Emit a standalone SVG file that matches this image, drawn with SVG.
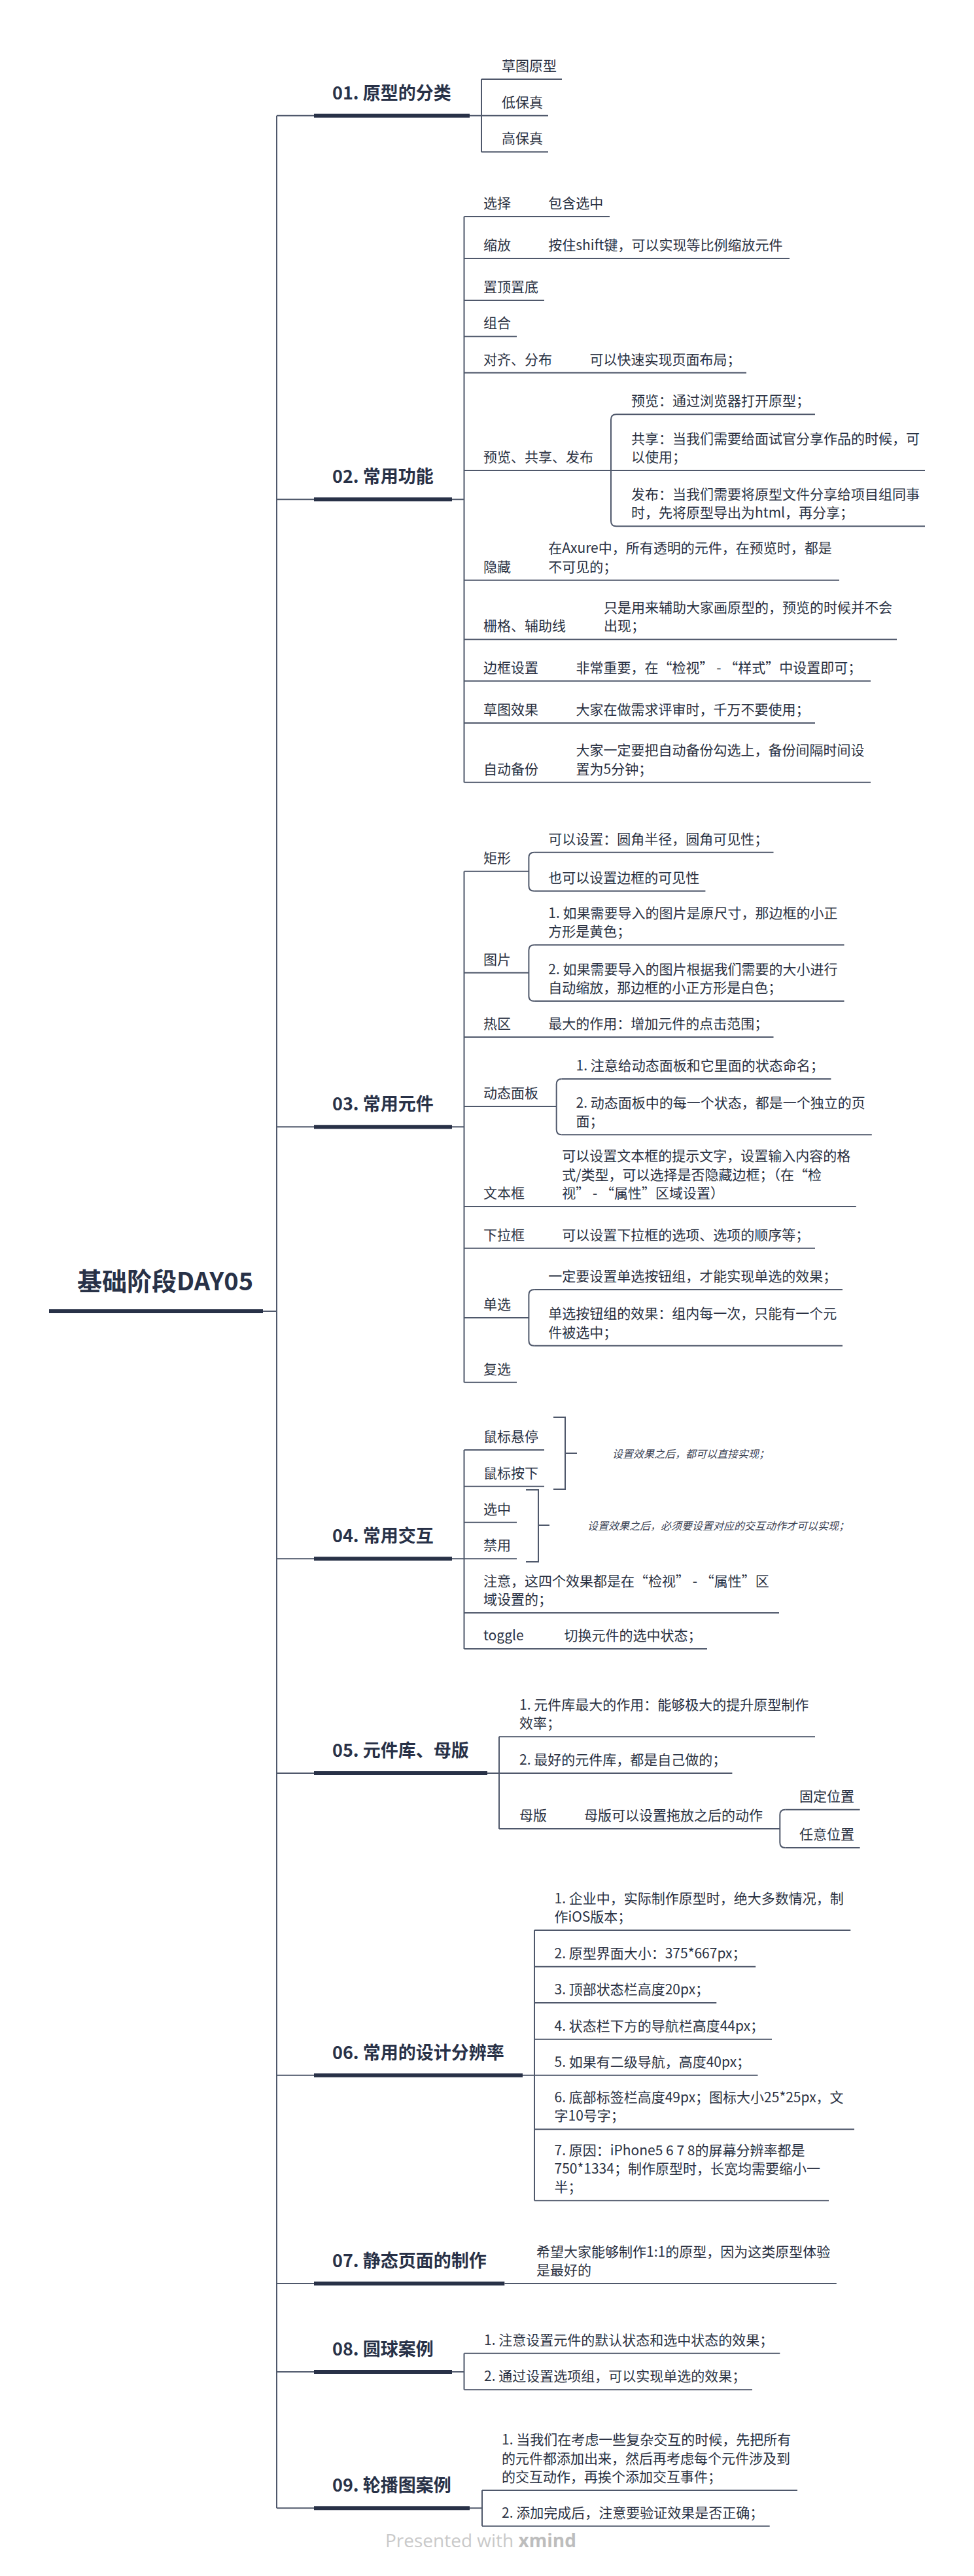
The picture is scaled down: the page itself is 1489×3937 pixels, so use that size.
<svg xmlns="http://www.w3.org/2000/svg" width="1489" height="3937" viewBox="0 0 1489 3937">
<style>
text{font-family:"Noto Sans CJK SC","Noto Sans",sans-serif;fill:#2a3142;font-size:21px}
.h{font-size:27px;font-weight:bold;fill:#283147}
.root{font-size:38px;font-weight:bold;fill:#283147}
.s{font-size:16px;font-style:italic;fill:#3d4455}
.ln{stroke:#4f586b;stroke-width:2;fill:none}
.bar{stroke:#283147;stroke-width:6;fill:none}
.wm{font-family:"Open Sans","Noto Sans",sans-serif;font-size:28px;fill:#c9c9c9}
</style>
<rect width="1489" height="3937" fill="#ffffff"/>
<g id="connectors">
<path class="ln" d="M423,176.7 V3833.3"/>
<path class="ln" d="M402,2004 H423"/>
<path class="ln" d="M423,176.7 H480 M423,763.3 H480 M423,1722.3 H480 M423,2382.3 H480 M423,2710 H480 M423,3171.7 H480 M423,3490 H480 M423,3625 H480 M423,3833.3 H480"/>
<path class="ln" d="M718,176.7 H736 M736,121 V232.3"/>
<path class="ln" d="M691,763.3 H709.5 M709.5,331 V1195.7"/>
<path class="ln" d="M942,633.3 Q934,633.3 934,641.3 V796.3 Q934,804.3 942,804.3"/>
<path class="ln" d="M691,1722.3 H709.5 M709.5,1331.7 V2112.7"/>
<path class="ln" d="M816.4,1302.7 Q808.4,1302.7 808.4,1310.7 V1353.7 Q808.4,1361.7 816.4,1361.7"/>
<path class="ln" d="M816.4,1444.3 Q808.4,1444.3 808.4,1452.3 V1522 Q808.4,1530 816.4,1530"/>
<path class="ln" d="M858.7,1649 Q850.7,1649 850.7,1657 V1726.3 Q850.7,1734.3 858.7,1734.3"/>
<path class="ln" d="M816.4,1971 Q808.4,1971 808.4,1979 V2048.7 Q808.4,2056.7 816.4,2056.7"/>
<path class="ln" d="M691,2382.3 H709.5 M709.5,2216 V2520"/>
<path class="ln" d="M846,2166 H864 V2276 H846 M864,2221 H882"/>
<path class="ln" d="M804,2277 H823 V2387 H804 M823,2331 H840"/>
<path class="ln" d="M745,2710 H763 M763,2654.3 V2795"/>
<path class="ln" d="M1200.3,2765.7 Q1192.3,2765.7 1192.3,2773.7 V2816 Q1192.3,2824 1200.3,2824"/>
<path class="ln" d="M799,3171.7 H817 M817,2950 V3363.3"/>
<path class="ln" d="M691,3625 H709.5 M709.5,3596.7 V3652.3"/>
<path class="ln" d="M718,3833.3 H737 M737,3806 V3860.7"/>
</g>
<g id="root">
<text class="root" x="118" y="1972">基础阶段DAY05</text>
<path class="bar" d="M75,2004 H402"/>
</g>
<g id="b01">
<text class="h" x="508" y="151.7">01. 原型的分类</text>
<path class="bar" d="M480,176.7 H718"/>
</g>
<g id="n01-1"><text x="767" y="108">草图原型</text><path class="ln" d="M736,121 H859"/></g>
<g id="n01-2"><text x="767" y="163.7">低保真</text><path class="ln" d="M736,176.7 H838"/></g>
<g id="n01-3"><text x="767" y="219.3">高保真</text><path class="ln" d="M736,232.3 H838"/></g>
<g id="b02">
<text class="h" x="508" y="738.3">02. 常用功能</text>
<path class="bar" d="M480,763.3 H691"/>
</g>
<g id="n02-1"><text x="739" y="318">选择</text><text x="838.3" y="318">包含选中</text><path class="ln" d="M709.5,331 H932"/></g>
<g id="n02-2"><text x="739" y="382">缩放</text><text x="838.3" y="382">按住shift键，可以实现等比例缩放元件</text><path class="ln" d="M709.5,395 H1207"/></g>
<g id="n02-3"><text x="739" y="446">置顶置底</text><path class="ln" d="M709.5,459 H832"/></g>
<g id="n02-4"><text x="739" y="501.3">组合</text><path class="ln" d="M709.5,514.3 H790"/></g>
<g id="n02-5"><text x="739" y="556.7">对齐、分布</text><text x="901.5" y="556.7">可以快速实现页面布局；</text><path class="ln" d="M709.5,569.7 H1141"/></g>
<g id="n02-6"><text x="739" y="706">预览、共享、发布</text><path class="ln" d="M709.5,719 H934"/></g>
<g id="n02-6a"><text x="965" y="620.3">预览：通过浏览器打开原型；</text><path class="ln" d="M942,633.3 H1246"/></g>
<g id="n02-6b"><text x="965" y="677.7">共享：当我们需要给面试官分享作品的时候，可</text><text x="965" y="706">以使用；</text><path class="ln" d="M934,719 H1414"/></g>
<g id="n02-6c"><text x="965" y="763">发布：当我们需要将原型文件分享给项目组同事</text><text x="965" y="791.3">时，先将原型导出为html，再分享；</text><path class="ln" d="M942,804.3 H1414"/></g>
<g id="n02-7"><text x="739" y="873.7">隐藏</text><text x="838.3" y="845.4">在Axure中，所有透明的元件，在预览时，都是</text><text x="838.3" y="873.7">不可见的；</text><path class="ln" d="M709.5,886.7 H1283"/></g>
<g id="n02-8"><text x="739" y="964.3">栅格、辅助线</text><text x="923" y="936">只是用来辅助大家画原型的，预览的时候并不会</text><text x="923" y="964.3">出现；</text><path class="ln" d="M709.5,977.3 H1371"/></g>
<g id="n02-9"><text x="739" y="1027.7">边框设置</text><text x="880.6" y="1027.7">非常重要，在“检视” - “样式”中设置即可；</text><path class="ln" d="M709.5,1040.7 H1331"/></g>
<g id="n02-10"><text x="739" y="1092">草图效果</text><text x="880.6" y="1092">大家在做需求评审时，千万不要使用；</text><path class="ln" d="M709.5,1105 H1246"/></g>
<g id="n02-11"><text x="739" y="1182.7">自动备份</text><text x="880.6" y="1154.4">大家一定要把自动备份勾选上，备份间隔时间设</text><text x="880.6" y="1182.7">置为5分钟；</text><path class="ln" d="M709.5,1195.7 H1331"/></g>
<g id="b03">
<text class="h" x="508" y="1697.3">03. 常用元件</text>
<path class="bar" d="M480,1722.3 H691"/>
</g>
<g id="n03-1"><text x="739" y="1318.7">矩形</text><path class="ln" d="M709.5,1331.7 H808.4"/></g>
<g id="n03-1a"><text x="838.3" y="1289.7">可以设置：圆角半径，圆角可见性；</text><path class="ln" d="M816.4,1302.7 H1182.5"/></g>
<g id="n03-1b"><text x="838.3" y="1348.7">也可以设置边框的可见性</text><path class="ln" d="M816.4,1361.7 H1078.4"/></g>
<g id="n03-2"><text x="739" y="1473.7">图片</text><path class="ln" d="M709.5,1486.7 H808.4"/></g>
<g id="n03-2a"><text x="838.3" y="1403">1. 如果需要导入的图片是原尺寸，那边框的小正</text><text x="838.3" y="1431.3">方形是黄色；</text><path class="ln" d="M816.4,1444.3 H1290.5"/></g>
<g id="n03-2b"><text x="838.3" y="1488.7">2. 如果需要导入的图片根据我们需要的大小进行</text><text x="838.3" y="1517">自动缩放，那边框的小正方形是白色；</text><path class="ln" d="M816.4,1530 H1290.5"/></g>
<g id="n03-3"><text x="739" y="1572">热区</text><text x="838.3" y="1572">最大的作用：增加元件的点击范围；</text><path class="ln" d="M709.5,1585 H1182.5"/></g>
<g id="n03-4"><text x="739" y="1678">动态面板</text><path class="ln" d="M709.5,1691 H850.7"/></g>
<g id="n03-4a"><text x="880.6" y="1636">1. 注意给动态面板和它里面的状态命名；</text><path class="ln" d="M858.7,1649 H1270.4"/></g>
<g id="n03-4b"><text x="880.6" y="1693">2. 动态面板中的每一个状态，都是一个独立的页</text><text x="880.6" y="1721.3">面；</text><path class="ln" d="M858.7,1734.3 H1332.8"/></g>
<g id="n03-5"><text x="739" y="1831">文本框</text><text x="859.2" y="1774.4">可以设置文本框的提示文字，设置输入内容的格</text><text x="859.2" y="1802.7">式/类型，可以选择是否隐藏边框；（在“检</text><text x="859.2" y="1831">视” - “属性”区域设置）</text><path class="ln" d="M709.5,1844 H1308.8"/></g>
<g id="n03-6"><text x="739" y="1894.7">下拉框</text><text x="859.2" y="1894.7">可以设置下拉框的选项、选项的顺序等；</text><path class="ln" d="M709.5,1907.7 H1246"/></g>
<g id="n03-7"><text x="739" y="2001">单选</text><path class="ln" d="M709.5,2014 H808.4"/></g>
<g id="n03-7a"><text x="838.3" y="1958">一定要设置单选按钮组，才能实现单选的效果；</text><path class="ln" d="M816.4,1971 H1288"/></g>
<g id="n03-7b"><text x="838.3" y="2015.4">单选按钮组的效果：组内每一次，只能有一个元</text><text x="838.3" y="2043.7">件被选中；</text><path class="ln" d="M816.4,2056.7 H1288"/></g>
<g id="n03-8"><text x="739" y="2099.7">复选</text><path class="ln" d="M709.5,2112.7 H790"/></g>
<g id="b04">
<text class="h" x="508" y="2357.3">04. 常用交互</text>
<path class="bar" d="M480,2382.3 H691"/>
</g>
<g id="n04-1"><text x="739" y="2203">鼠标悬停</text><path class="ln" d="M709.5,2216 H832"/></g>
<g id="n04-2"><text x="739" y="2258.7">鼠标按下</text><path class="ln" d="M709.5,2271.7 H832"/></g>
<g id="n04-3"><text x="739" y="2313.7">选中</text><path class="ln" d="M709.5,2326.7 H790"/></g>
<g id="n04-4"><text x="739" y="2369.3">禁用</text><path class="ln" d="M709.5,2382.3 H790"/></g>
<g id="n04-5"><text x="739" y="2423.7">注意，这四个效果都是在“检视” - “属性”区</text><text x="739" y="2452">域设置的；</text><path class="ln" d="M709.5,2465 H1191"/></g>
<g id="n04-6"><text x="739" y="2507">toggle</text><text x="862.4" y="2507">切换元件的选中状态；</text><path class="ln" d="M709.5,2520 H1081"/></g>
<g id="sum04-1"><text class="s" x="936" y="2228">设置效果之后，都可以直接实现；</text></g>
<g id="sum04-2"><text class="s" x="898" y="2338">设置效果之后，必须要设置对应的交互动作才可以实现；</text></g>
<g id="b05">
<text class="h" x="508" y="2685">05. 元件库、母版</text>
<path class="bar" d="M480,2710 H745"/>
</g>
<g id="n05-1"><text x="794" y="2613">1. 元件库最大的作用：能够极大的提升原型制作</text><text x="794" y="2641.3">效率；</text><path class="ln" d="M763,2654.3 H1246"/></g>
<g id="n05-2"><text x="794" y="2697">2. 最好的元件库，都是自己做的；</text><path class="ln" d="M763,2710 H1119.4"/></g>
<g id="n05-3"><text x="794" y="2782">母版</text><text x="893" y="2782">母版可以设置拖放之后的动作</text><path class="ln" d="M763,2795 H1192.3"/></g>
<g id="n05-3a"><text x="1222" y="2752.7">固定位置</text><path class="ln" d="M1200.3,2765.7 H1314.6"/></g>
<g id="n05-3b"><text x="1222" y="2811">任意位置</text><path class="ln" d="M1200.3,2824 H1314.6"/></g>
<g id="b06">
<text class="h" x="508" y="3146.7">06. 常用的设计分辨率</text>
<path class="bar" d="M480,3171.7 H799"/>
</g>
<g id="n06-1"><text x="847.5" y="2908.7">1. 企业中，实际制作原型时，绝大多数情况，制</text><text x="847.5" y="2937">作iOS版本；</text><path class="ln" d="M817,2950 H1300.3"/></g>
<g id="n06-2"><text x="847.5" y="2992.7">2. 原型界面大小：375*667px；</text><path class="ln" d="M817,3005.7 H1155.2"/></g>
<g id="n06-3"><text x="847.5" y="3048">3. 顶部状态栏高度20px；</text><path class="ln" d="M817,3061 H1095.3"/></g>
<g id="n06-4"><text x="847.5" y="3103.7">4. 状态栏下方的导航栏高度44px；</text><path class="ln" d="M817,3116.7 H1180"/></g>
<g id="n06-5"><text x="847.5" y="3158.7">5. 如果有二级导航，高度40px；</text><path class="ln" d="M817,3171.7 H1158.5"/></g>
<g id="n06-6"><text x="847.5" y="3213">6. 底部标签栏高度49px；图标大小25*25px，文</text><text x="847.5" y="3241.3">字10号字；</text><path class="ln" d="M817,3254.3 H1306"/></g>
<g id="n06-7"><text x="847.5" y="3293.7">7. 原因：iPhone5 6 7 8的屏幕分辨率都是</text><text x="847.5" y="3322">750*1334；制作原型时，长宽均需要缩小一</text><text x="847.5" y="3350.3">半；</text><path class="ln" d="M817,3363.3 H1267"/></g>
<g id="b07">
<text class="h" x="508" y="3465">07. 静态页面的制作</text>
<path class="bar" d="M480,3490 H771.3"/>
</g>
<g id="n07-1"><text x="820" y="3448.7">希望大家能够制作1:1的原型，因为这类原型体验</text><text x="820" y="3477">是最好的</text><path class="ln" d="M771.3,3490 H1278.8"/></g>
<g id="b08">
<text class="h" x="508" y="3600">08. 圆球案例</text>
<path class="bar" d="M480,3625 H691"/>
</g>
<g id="n08-1"><text x="740" y="3583.7">1. 注意设置元件的默认状态和选中状态的效果；</text><path class="ln" d="M709.5,3596.7 H1192.3"/></g>
<g id="n08-2"><text x="740" y="3639.3">2. 通过设置选项组，可以实现单选的效果；</text><path class="ln" d="M709.5,3652.3 H1150"/></g>
<g id="b09">
<text class="h" x="508" y="3808.3">09. 轮播图案例</text>
<path class="bar" d="M480,3833.3 H718"/>
</g>
<g id="n09-1"><text x="767" y="3736.4">1. 当我们在考虑一些复杂交互的时候，先把所有</text><text x="767" y="3764.7">的元件都添加出来，然后再考虑每个元件涉及到</text><text x="767" y="3793">的交互动作，再挨个添加交互事件；</text><path class="ln" d="M737,3806 H1219"/></g>
<g id="n09-2"><text x="767" y="3847.7">2. 添加完成后，注意要验证效果是否正确；</text><path class="ln" d="M737,3860.7 H1176.7"/></g>
<text class="wm" x="589" y="3893">Presented with <tspan font-weight="bold" fill="#bdbdbd">xmind</tspan></text>
</svg>
